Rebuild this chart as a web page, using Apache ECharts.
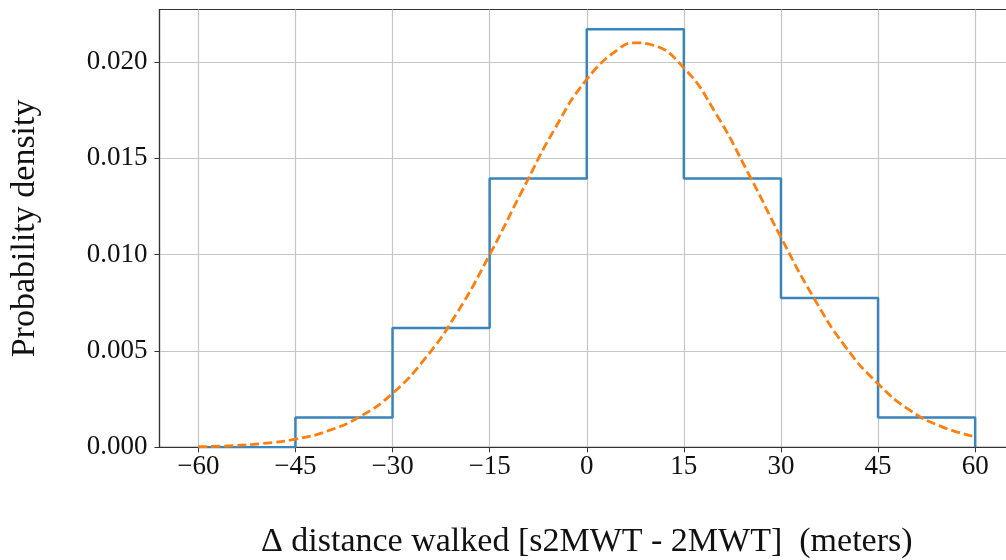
<!DOCTYPE html>
<html>
<head>
<meta charset="utf-8">
<script src="https://cdn.jsdelivr.net/npm/echarts@6/dist/echarts.min.js"></script>
<style>
  html, body { margin: 0; padding: 0; background: #fff; }
  #chart { width: 1006px; height: 560px; }
</style>
</head>
<body>
<div id="chart"></div>
<script>
// Istogramma (densità per bin da 15 m)
const binEdges = [-60, -45, -30, -15, 0, 15, 30, 45, 60];
const binDensity = [0, 0.00155, 0.0062, 0.01395, 0.0217, 0.01395, 0.00775, 0.00155];

// Curva normale
const curveX = [-60, -55, -50, -45, -40, -35, -30, -25, -20, -15, -10, -5, 0, 5, 7.5, 10, 15, 20, 25, 30, 35, 40, 45, 50, 55, 60];
const curveY = [0.00003, 0.00008, 0.0002, 0.00042, 0.00085, 0.0016, 0.0028, 0.0046, 0.0070, 0.0100, 0.0133, 0.0165, 0.0191, 0.0207, 0.0210, 0.0209, 0.0197, 0.0173, 0.0142, 0.0109, 0.0078, 0.0052, 0.0033, 0.0019, 0.00105, 0.00055];

// Tick
const xTicks = [-60, -45, -30, -15, 0, 15, 30, 45, 60];
const yTicks = [0, 0.005, 0.010, 0.015, 0.020];

const font = "Liberation Serif";
const spineColor = "#333333";
const gridColor = "#c6c6c6";

// Punti per la linea a gradini
const histData = binDensity.map((d, i) => [binEdges[i], d]);
histData.push([binEdges[binEdges.length - 1], 0]);

const curveData = curveX.map((x, i) => [x, curveY[i]]);

const chart = echarts.init(document.getElementById("chart"));
chart.setOption({
  animation: false,
  grid: {
    left: 159.5, right: -8, top: 9.5, bottom: 112.7,
    outerBoundsMode: "none",
    containLabel: false,
    show: true, borderColor: spineColor, borderWidth: 1.2, backgroundColor: "transparent"
  },
  xAxis: {
    type: "value",
    min: -66, max: 66,
    name: "\u0394 distance walked [s2MWT - 2MWT]  (meters)",
    nameLocation: "middle",
    nameGap: 78,
    nameTextStyle: { fontFamily: font, fontSize: 34, color: "#111" },
    axisLine: { show: true, onZero: false, lineStyle: { color: spineColor, width: 1.2 } },
    axisTick: { show: true, length: 5, customValues: xTicks, lineStyle: { color: spineColor } },
    axisLabel: {
      customValues: xTicks,
      margin: 6,
      fontFamily: font, fontSize: 27, color: "#111",
      formatter: v => (v < 0 ? "\u2212" + Math.abs(v) : String(v))
    },
    splitLine: { show: true, lineStyle: { color: gridColor, width: 1.2 } }
  },
  yAxis: {
    type: "value",
    min: 0, max: 0.02273,
    name: "Probability density",
    nameLocation: "middle",
    nameGap: 117,
    nameTextStyle: { fontFamily: font, fontSize: 34, color: "#111" },
    axisLine: { show: true, onZero: false, lineStyle: { color: spineColor, width: 1.2 } },
    axisTick: { show: true, length: 5, customValues: yTicks, lineStyle: { color: spineColor } },
    axisLabel: {
      customValues: yTicks,
      margin: 12,
      fontFamily: font, fontSize: 27, color: "#111",
      formatter: v => v.toFixed(3)
    },
    splitLine: { show: true, lineStyle: { color: gridColor, width: 1.2 } }
  },
  series: [
    {
      name: "Istogramma",
      type: "line",
      step: "end",
      data: histData,
      showSymbol: false,
      lineStyle: { color: "#3a84bc", width: 2.5 },
      z: 3
    },
    {
      name: "Normale",
      type: "line",
      data: curveData,
      smooth: true,
      showSymbol: false,
      lineStyle: { color: "#ff7f0e", width: 2.8, type: [9, 4] },
      z: 4
    }
  ]
});
</script>
</body>
</html>
